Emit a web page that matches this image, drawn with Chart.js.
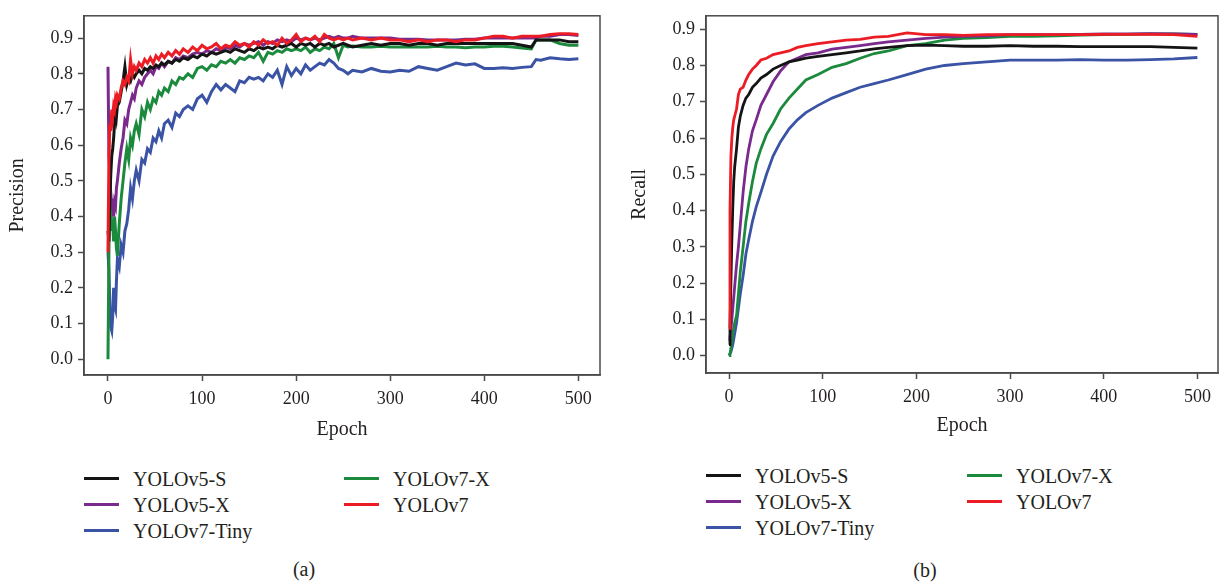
<!DOCTYPE html>
<html>
<head>
<meta charset="utf-8">
<script src="https://cdn.jsdelivr.net/npm/chart.js@4.4.1/dist/chart.umd.min.js"></script>
<style>
  body { margin: 0; background: #fff; width: 1222px; height: 583px; position: relative; overflow: hidden; }
  canvas { position: absolute; top: 0; }
  #cv-a { left: 0; }
  #cv-b { left: 620px; }
  .leg { position: absolute; font-family: "Liberation Serif", serif; font-size: 20px; color: #231f20; line-height: 24px; white-space: nowrap; }
  .leg .ln { position: absolute; top: 10px; width: 35px; height: 3px; }
  .leg .tx { position: absolute; top: 0; }
  .cap { position: absolute; font-family: "Liberation Serif", serif; font-size: 20px; color: #231f20; transform: translate(-50%, -50%); }
</style>
</head>
<body>
<canvas id="cv-a" width="610" height="460"></canvas>
<canvas id="cv-b" width="602" height="460"></canvas>
<div id="legends"></div>
<div class="cap" style="left:304px; top:569px;">(a)</div>
<div class="cap" style="left:925px; top:570px;">(b)</div>
<script>
// series names / colours
const names = ['YOLOv5-S', 'YOLOv5-X', 'YOLOv7-Tiny', 'YOLOv7-X', 'YOLOv7'];
const colors = ['#141414', '#7a2a8c', '#3a53a4', '#1b8a3c', '#ec1c24'];
const drawOrder = [2, 3, 5, 4, 1];

const yTicks = [0, 0.1, 0.2, 0.3, 0.4, 0.5, 0.6, 0.7, 0.8, 0.9];
const xTicks = [0, 100, 200, 300, 400, 500];

// (a) precision
const precEpochs = [0,1,2,3,4,5,6,7,8,9,10,12,14,16,18,20,22,24,26,28,30,33,36,39,42,45,48,51,54,57,60,64,68,72,76,80,
  85,90,95,100,105,110,115,120,125,130,135,140,145,150,155,160,165,170,175,180,185,190,195,200,205,210,215,220,225,230,235,240,245,250,255,260,
  270,280,290,300,310,320,330,340,350,360,370,380,390,400,410,420,430,440,450,455,460,470,480,490,500];

const precV5S = [0.36,0.33,0.45,0.52,0.57,0.59,0.62,0.66,0.70,0.68,0.71,0.72,0.75,0.78,0.82,0.77,0.79,0.78,0.80,0.79,0.80,
  0.81,0.80,0.815,0.81,0.82,0.815,0.825,0.82,0.83,0.825,0.835,0.83,0.84,0.835,0.845,
  0.84,0.85,0.845,0.855,0.85,0.86,0.855,0.86,0.865,0.86,0.87,0.865,0.86,0.87,0.865,0.875,0.87,0.875,0.87,0.88,0.875,0.88,0.885,0.875,0.885,0.88,0.885,0.875,0.885,0.88,0.885,0.875,0.88,0.885,0.88,0.875,
  0.88,0.885,0.88,0.885,0.885,0.88,0.885,0.885,0.88,0.885,0.885,0.885,0.885,0.885,0.885,0.885,0.885,0.88,0.875,0.895,0.895,0.895,0.895,0.89,0.89];

const precV5X = [0.82,0.57,0.52,0.46,0.42,0.45,0.40,0.44,0.43,0.48,0.50,0.55,0.59,0.62,0.67,0.66,0.70,0.72,0.74,0.73,0.76,
  0.78,0.77,0.79,0.80,0.81,0.80,0.82,0.815,0.83,0.82,0.835,0.83,0.845,0.84,0.85,
  0.845,0.855,0.86,0.855,0.865,0.86,0.87,0.865,0.875,0.87,0.88,0.875,0.885,0.88,0.885,0.89,0.88,0.89,0.885,0.895,0.89,0.895,0.89,0.90,0.895,0.90,0.895,0.90,0.895,0.90,0.905,0.90,0.905,0.90,0.90,0.905,
  0.90,0.90,0.90,0.90,0.897,0.897,0.897,0.895,0.895,0.895,0.895,0.897,0.897,0.90,0.90,0.90,0.90,0.90,0.90,0.90,0.905,0.905,0.91,0.91,0.907];

const precV7Tiny = [0.30,0.25,0.15,0.09,0.08,0.12,0.20,0.15,0.14,0.22,0.28,0.26,0.32,0.30,0.36,0.38,0.42,0.48,0.45,0.50,0.53,
  0.50,0.56,0.55,0.59,0.58,0.62,0.61,0.64,0.62,0.66,0.67,0.65,0.69,0.68,0.70,
  0.71,0.70,0.73,0.74,0.72,0.75,0.77,0.755,0.77,0.76,0.75,0.78,0.775,0.79,0.785,0.79,0.78,0.80,0.79,0.81,0.77,0.82,0.795,0.815,0.80,0.825,0.81,0.82,0.83,0.825,0.84,0.83,0.815,0.81,0.80,0.81,
  0.805,0.815,0.807,0.805,0.81,0.807,0.82,0.815,0.81,0.82,0.83,0.825,0.828,0.815,0.815,0.817,0.815,0.818,0.82,0.84,0.838,0.845,0.842,0.84,0.842];

const precV7X = [0.0,0.30,0.52,0.45,0.36,0.38,0.33,0.40,0.36,0.31,0.29,0.38,0.45,0.50,0.55,0.59,0.56,0.62,0.60,0.64,0.66,
  0.63,0.70,0.68,0.72,0.70,0.73,0.72,0.75,0.74,0.76,0.75,0.78,0.77,0.79,0.785,
  0.80,0.79,0.815,0.82,0.81,0.825,0.82,0.835,0.83,0.84,0.83,0.845,0.84,0.85,0.845,0.86,0.835,0.86,0.855,0.865,0.86,0.87,0.865,0.87,0.865,0.875,0.86,0.87,0.865,0.875,0.87,0.885,0.845,0.88,0.875,0.878,
  0.875,0.875,0.877,0.875,0.875,0.875,0.875,0.875,0.877,0.875,0.875,0.873,0.875,0.875,0.877,0.877,0.875,0.872,0.87,0.895,0.895,0.895,0.885,0.88,0.88];

const precV7 = [0.30,0.57,0.66,0.64,0.70,0.68,0.71,0.70,0.73,0.72,0.74,0.73,0.76,0.78,0.77,0.79,0.78,0.84,0.80,0.82,0.81,
  0.83,0.82,0.84,0.83,0.845,0.83,0.85,0.84,0.855,0.845,0.86,0.85,0.865,0.855,0.87,
  0.86,0.875,0.865,0.88,0.87,0.875,0.885,0.87,0.88,0.875,0.89,0.88,0.885,0.875,0.89,0.88,0.895,0.885,0.89,0.88,0.90,0.885,0.895,0.91,0.89,0.90,0.895,0.905,0.89,0.91,0.90,0.895,0.90,0.895,0.90,0.895,
  0.90,0.895,0.90,0.895,0.895,0.89,0.895,0.89,0.895,0.895,0.89,0.895,0.895,0.90,0.905,0.905,0.90,0.905,0.905,0.905,0.905,0.91,0.912,0.912,0.91];

// (b) recall
const recEpochs = [0,1,2,3,4,5,6,8,10,12,15,18,21,25,29,34,40,47,55,64,73,82,95,110,125,140,155,170,190,210,230,250,275,300,325,350,375,400,425,450,475,500];

const recV5S = [0.03,0.08,0.20,0.32,0.41,0.48,0.52,0.57,0.63,0.66,0.69,0.71,0.72,0.74,0.75,0.765,0.775,0.79,0.80,0.81,0.815,0.82,0.825,0.83,0.835,0.84,0.846,0.85,0.855,0.856,0.855,0.853,0.853,0.855,0.853,0.853,0.852,0.852,0.852,0.852,0.85,0.848];
const recV5X = [0.04,0.05,0.07,0.10,0.13,0.16,0.19,0.25,0.30,0.36,0.45,0.52,0.57,0.62,0.65,0.69,0.72,0.755,0.785,0.81,0.82,0.83,0.835,0.845,0.85,0.855,0.86,0.865,0.87,0.875,0.878,0.88,0.882,0.885,0.885,0.885,0.886,0.887,0.887,0.888,0.887,0.886];
const recV7Tiny = [0.0,0.0,0.01,0.02,0.03,0.045,0.06,0.09,0.13,0.17,0.22,0.28,0.32,0.37,0.41,0.45,0.50,0.55,0.59,0.625,0.65,0.67,0.69,0.71,0.725,0.74,0.75,0.76,0.775,0.79,0.80,0.805,0.81,0.815,0.815,0.815,0.816,0.815,0.815,0.816,0.818,0.822];
const recV7X = [0.0,0.005,0.02,0.04,0.06,0.075,0.09,0.11,0.17,0.23,0.30,0.37,0.42,0.48,0.53,0.57,0.61,0.64,0.68,0.71,0.735,0.76,0.775,0.795,0.805,0.82,0.833,0.84,0.855,0.86,0.87,0.875,0.877,0.88,0.88,0.882,0.884,0.885,0.886,0.887,0.887,0.886];
const recV7 = [0.075,0.40,0.55,0.60,0.63,0.65,0.66,0.68,0.72,0.735,0.74,0.76,0.775,0.79,0.80,0.815,0.82,0.83,0.835,0.84,0.85,0.855,0.86,0.865,0.87,0.872,0.878,0.88,0.89,0.885,0.885,0.883,0.885,0.885,0.885,0.885,0.885,0.886,0.886,0.886,0.885,0.88];

const FONT = '"Liberation Serif", serif';
const TXT = '#231f20';
const AXC = '#4a4a4a';

const boxPlugin = {
  id: 'box',
  afterDraw(chart) {
    const a = chart.chartArea;
    const c = chart.ctx;
    c.save();
    c.strokeStyle = AXC;
    c.lineWidth = 1.5;
    c.strokeRect(a.left, a.top, a.right - a.left, a.bottom - a.top);
    c.restore();
  }
};

function makeChart(id, epochs, series, cfg) {
  const datasets = series.map(function (vals, i) {
    return {
      label: names[i],
      data: epochs.map(function (e, j) { return { x: e, y: vals[j] }; }),
      borderColor: colors[i],
      borderWidth: cfg.lineW,
      pointRadius: 0,
      tension: 0,
      order: drawOrder[i],
    };
  });
  return new Chart(document.getElementById(id), {
    type: 'line',
    data: { datasets: datasets },
    options: {
      responsive: false,
      animation: false,
      layout: { padding: { top: cfg.padTop, right: cfg.padRight, left: 0, bottom: 0 } },
      plugins: { legend: { display: false }, tooltip: { enabled: false } },
      scales: {
        x: {
          type: 'linear', min: cfg.xMin, max: cfg.xMax,
          afterBuildTicks: function (s) { s.ticks = xTicks.map(function (v) { return { value: v }; }); },
          afterFit: function (s) { s.height = cfg.xAxisH; },
          grid: { drawOnChartArea: false, drawTicks: true, tickLength: 6, color: AXC, tickWidth: 1.5 },
          border: { display: true, color: AXC, width: 1.5 },
          ticks: { color: TXT, font: { family: FONT, size: 18 }, padding: 7, maxRotation: 0,
            callback: function (v) { return v; } },
          title: { display: true, text: 'Epoch', color: TXT, font: { family: FONT, size: 20 },
            padding: { top: 0, bottom: cfg.xTitlePad } },
        },
        y: {
          type: 'linear', min: cfg.yMin, max: cfg.yMax,
          afterBuildTicks: function (s) { s.ticks = yTicks.map(function (v) { return { value: v }; }); },
          afterFit: function (s) { s.width = cfg.yAxisW; },
          grid: { drawOnChartArea: false, drawTicks: true, tickLength: 6, color: AXC, tickWidth: 1.5 },
          border: { display: true, color: AXC, width: 1.5 },
          ticks: { color: TXT, font: { family: FONT, size: 18 }, padding: 5,
            callback: function (v) { return v.toFixed(1); } },
          title: { display: true, text: cfg.yTitle, color: TXT, font: { family: FONT, size: 20 },
            padding: { top: cfg.yTitlePad, bottom: 0 } },
        },
      },
    },
    plugins: [boxPlugin],
  });
}

makeChart('cv-a', precEpochs, [precV5S, precV5X, precV7Tiny, precV7X, precV7], {
  padTop: 5, padRight: 10, xMin: -25.5, xMax: 523, yMin: -0.044, yMax: 0.9625,
  xAxisH: 85, yAxisW: 84, xTitlePad: 18, yTitlePad: 6, yTitle: 'Precision', lineW: 3
});

makeChart('cv-b', recEpochs, [recV5S, recV5X, recV7Tiny, recV7X, recV7], {
  padTop: 3, padRight: 4, xMin: -24.6, xMax: 522, yMin: -0.048, yMax: 0.937,
  xAxisH: 87, yAxisW: 86, xTitlePad: 22, yTitlePad: 8, yTitle: 'Recall', lineW: 2.8
});

// legends below each panel (two columns: first three, then last two)
function legend(x1, x2, yTop) {
  const root = document.getElementById('legends');
  const slots = [[x1, 0], [x1, 1], [x1, 2], [x2, 0], [x2, 1]];
  names.forEach(function (n, i) {
    const d = document.createElement('div');
    d.className = 'leg';
    d.style.left = slots[i][0] + 'px';
    d.style.top = (yTop + slots[i][1] * 26) + 'px';
    d.innerHTML = '<span class="ln" style="left:0;background:' + colors[i] + '"></span>' +
      '<span class="tx" style="left:49px">' + n + '</span>';
    root.appendChild(d);
  });
}
legend(84, 344, 467);
legend(706, 967, 464);
</script>
</body>
</html>
